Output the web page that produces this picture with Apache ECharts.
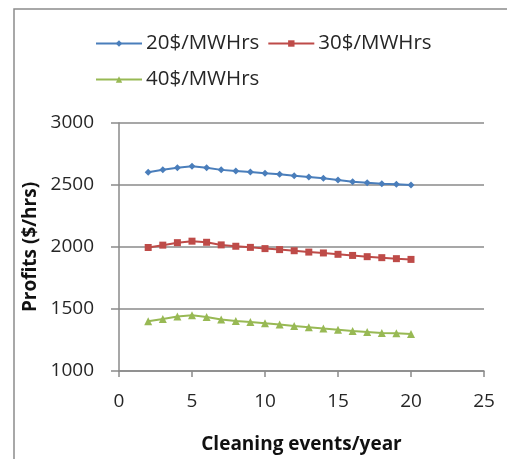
<!DOCTYPE html>
<html><head><meta charset="utf-8">
<style>html,body{margin:0;padding:0;background:#fff}#c{width:507px;height:459px}</style>
<script src="https://cdn.jsdelivr.net/npm/echarts@6/dist/echarts.min.js"></script>
</head><body><div id="c"></div>
<script>
var xs = [2,3,4,5,6,7,8,9,10,11,12,13,14,15,16,17,18,19,20];
var s20 = [2602,2623,2640,2652,2640,2622,2612,2604,2594,2586,2574,2565,2555,2540,2527,2519,2511,2506,2500];
var s30 = [1996,2015,2035,2047,2038,2017,2006,1997,1987,1979,1970,1959,1952,1941,1932,1922,1914,1906,1900];
var s40 = [1401,1420,1440,1449,1436,1415,1404,1396,1385,1375,1363,1352,1342,1333,1323,1315,1307,1304,1298];
var names = ['20$/MWHrs','30$/MWHrs','40$/MWHrs'];
var yTicks = [1000,1500,2000,2500,3000];
var xTicks = [0,5,10,15,20,25];
function pairs(a){return xs.map(function(x,i){return [x,a[i]];});}
var font = 'Open Sans';
var chart = echarts.init(document.getElementById('c'));
var legText = {fontSize:20.5,color:'#262626',fontFamily:font,padding:[0,0,0,-1]};
chart.setOption({
  animation:false,
  textStyle:{fontFamily:font},
  graphic:[{type:'rect',shape:{x:14,y:9,width:700,height:700},style:{fill:'none',stroke:'#8c8c8c',lineWidth:1.5},z:-1}],
  legend:[
    {data:[names[0],names[1]],left:90,top:28,itemWidth:46,itemHeight:8,itemGap:8,textStyle:legText},
    {data:[names[2]],left:90,top:64,itemWidth:46,itemHeight:8,textStyle:legText}
  ],
  grid:{left:119,right:23,top:123,bottom:80},
  xAxis:{type:'value',min:0,max:25,interval:5,
    name:'Cleaning events/year',nameLocation:'middle',nameGap:64,
    nameTextStyle:{fontSize:19,fontWeight:'bold',color:'#111',fontFamily:font},
    axisLine:{lineStyle:{color:'#8a8a8a',width:1.5}},
    axisTick:{show:true,length:6,lineStyle:{color:'#8a8a8a',width:1.5}},
    axisLabel:{fontSize:19,color:'#262626',margin:21,formatter:function(v){return String(v);}},
    splitLine:{show:false}},
  yAxis:{type:'value',min:1000,max:3000,interval:500,
    name:'Profits ($/hrs)',nameLocation:'middle',nameGap:68,
    nameTextStyle:{fontSize:19,fontWeight:'bold',color:'#111',fontFamily:font},
    axisLine:{show:true,lineStyle:{color:'#8a8a8a',width:1.5}},
    axisTick:{show:true,length:8,lineStyle:{color:'#8a8a8a',width:1.5}},
    axisLabel:{fontSize:19,color:'#262626',margin:25,formatter:function(v){return String(v);}},
    splitLine:{lineStyle:{color:'#8a8a8a',width:1.5}}},
  series:[
    {name:names[0],type:'line',data:pairs(s20),symbol:'diamond',symbolSize:7,
     itemStyle:{color:'#4a7ebb'},lineStyle:{width:2,color:'#4a7ebb'}},
    {name:names[1],type:'line',data:pairs(s30),symbol:'rect',symbolSize:7,
     itemStyle:{color:'#be4b48'},lineStyle:{width:2,color:'#be4b48'}},
    {name:names[2],type:'line',data:pairs(s40),symbol:'triangle',symbolSize:8,
     itemStyle:{color:'#98b954'},lineStyle:{width:2,color:'#98b954'}}
  ]
});
</script></body></html>
